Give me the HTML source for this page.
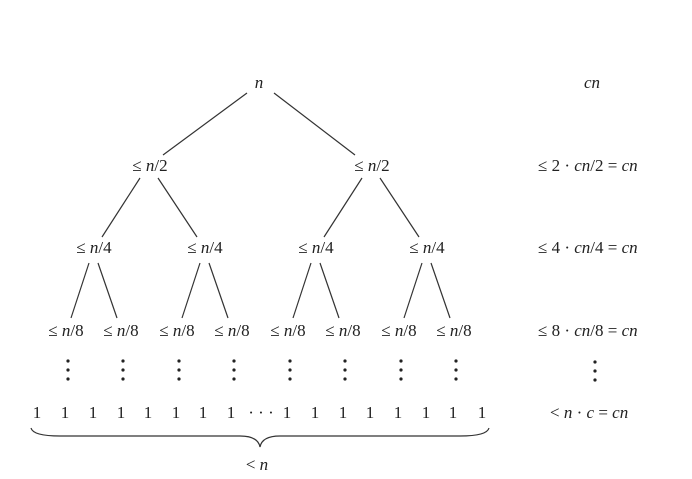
<!DOCTYPE html>
<html><head><meta charset="utf-8"><style>
html,body{margin:0;padding:0;background:#fff;}
svg{display:block;}
text{font-family:"Liberation Serif",serif;font-size:17px;fill:#222;}
.i{font-style:italic;}
</style></head><body>
<svg width="692" height="479" viewBox="0 0 692 479" xmlns="http://www.w3.org/2000/svg">
<defs>
<g id="d"><circle cx="0" cy="0" r="1.6"/><circle cx="0" cy="9" r="1.6"/><circle cx="0" cy="18" r="1.6"/></g>
</defs>
<g stroke="#333" stroke-width="1.2" fill="none">
<line x1="247" y1="93" x2="163" y2="155"/><line x1="274" y1="93" x2="355" y2="155"/>
<line x1="140" y1="178" x2="102" y2="237"/><line x1="158" y1="178" x2="197" y2="237"/>
<line x1="362" y1="178" x2="324" y2="237"/><line x1="380" y1="178" x2="419" y2="237"/>
<line x1="89" y1="263" x2="71" y2="318"/><line x1="98" y1="263" x2="117" y2="318"/>
<line x1="200" y1="263" x2="182" y2="318"/><line x1="209" y1="263" x2="228" y2="318"/>
<line x1="311" y1="263" x2="293" y2="318"/><line x1="320" y1="263" x2="339" y2="318"/>
<line x1="422" y1="263" x2="404" y2="318"/><line x1="431" y1="263" x2="450" y2="318"/>
<path d="M31 428 Q33 436 60 436 L240 436 Q258 436 260 447 Q262 436 280 436 L460 436 Q487 436 489 428"/>
</g>
<g text-anchor="middle">
<text x="259" y="88" class="i">n</text>
<text x="150" y="171">≤ <tspan class="i">n</tspan>/2</text>
<text x="372" y="171">≤ <tspan class="i">n</tspan>/2</text>
<text x="94" y="253">≤ <tspan class="i">n</tspan>/4</text>
<text x="205" y="253">≤ <tspan class="i">n</tspan>/4</text>
<text x="316" y="253">≤ <tspan class="i">n</tspan>/4</text>
<text x="427" y="253">≤ <tspan class="i">n</tspan>/4</text>
<text x="66" y="336">≤ <tspan class="i">n</tspan>/8</text>
<text x="121" y="336">≤ <tspan class="i">n</tspan>/8</text>
<text x="177" y="336">≤ <tspan class="i">n</tspan>/8</text>
<text x="232" y="336">≤ <tspan class="i">n</tspan>/8</text>
<text x="288" y="336">≤ <tspan class="i">n</tspan>/8</text>
<text x="343" y="336">≤ <tspan class="i">n</tspan>/8</text>
<text x="399" y="336">≤ <tspan class="i">n</tspan>/8</text>
<text x="454" y="336">≤ <tspan class="i">n</tspan>/8</text>
<text x="37" y="418">1</text><text x="65" y="418">1</text><text x="93" y="418">1</text><text x="121" y="418">1</text>
<text x="148" y="418">1</text><text x="176" y="418">1</text><text x="203" y="418">1</text><text x="231" y="418">1</text>
<text x="261" y="418">· · ·</text>
<text x="287" y="418">1</text><text x="315" y="418">1</text><text x="343" y="418">1</text><text x="370" y="418">1</text>
<text x="398" y="418">1</text><text x="426" y="418">1</text><text x="453" y="418">1</text><text x="482" y="418">1</text>
<text x="257" y="470">&lt; <tspan class="i">n</tspan></text>
<text x="592" y="88" class="i">cn</text>
</g>
<g fill="#222">
<use href="#d" x="68" y="361"/><use href="#d" x="123" y="361"/><use href="#d" x="179" y="361"/><use href="#d" x="234" y="361"/>
<use href="#d" x="290" y="361"/><use href="#d" x="345" y="361"/><use href="#d" x="401" y="361"/><use href="#d" x="456" y="361"/>
<use href="#d" x="595" y="362"/>
</g>
<text x="538" y="171">≤ 2 · <tspan class="i">cn</tspan>/2 = <tspan class="i">cn</tspan></text>
<text x="538" y="253">≤ 4 · <tspan class="i">cn</tspan>/4 = <tspan class="i">cn</tspan></text>
<text x="538" y="336">≤ 8 · <tspan class="i">cn</tspan>/8 = <tspan class="i">cn</tspan></text>
<text x="550" y="418">&lt; <tspan class="i">n</tspan> · <tspan class="i">c</tspan> = <tspan class="i">cn</tspan></text>
</svg>
</body></html>
